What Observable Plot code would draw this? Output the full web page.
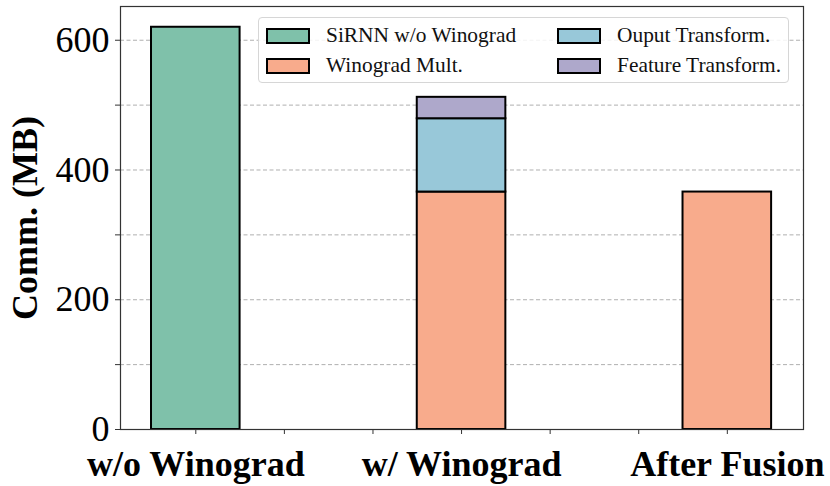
<!DOCTYPE html>
<html>
<head>
<meta charset="utf-8">
<script src="https://cdn.jsdelivr.net/npm/d3@7"></script>
<script src="https://cdn.jsdelivr.net/npm/@observablehq/plot@0.6"></script>
<style>
  html, body { margin: 0; padding: 0; background: #fff; }
  #wrap { position: relative; width: 830px; height: 486px; font-family: 'Liberation Serif', serif; }
  #legend { position: absolute; left: 258px; top: 17px; width: 531px; height: 66px; box-sizing: border-box;
    border: 1px solid #d6d6d6; border-radius: 4px; background: rgba(255,255,255,0.85); font-family: 'Liberation Serif', serif; }
  .item { position: absolute; display: flex; align-items: center; font-size: 21.4px; color: #111; white-space: nowrap; font-family: 'Liberation Serif', serif; }
  .sw { width: 40px; height: 12px; border: 2px solid #000; margin-right: 16px; }
</style>
</head>
<body>
<div id="wrap"></div>
<script>
const categories = ["w/o Winograd", "w/ Winograd", "After Fusion"];
const series = ["SiRNN w/o Winograd", "Winograd Mult.", "Ouput Transform.", "Feature Transform."];
const colors = ["#7fc1aa", "#f8ab8c", "#98c8d9", "#aea8cb"];
const sirnn = [620, 0, 0];
const winoMult = [0, 366, 366];
const outputTransform = [0, 113, 0];
const featureTransform = [0, 33, 0];
const yTicks = [0, 200, 400, 600];
const yMinor = [100, 300, 500];
const gridValues = [100, 200, 300, 400, 500, 600];

const seriesValues = [sirnn, winoMult, outputTransform, featureTransform];
const rows = [];
categories.forEach((c, i) => {
  let base = 0;
  series.forEach((s, k) => {
    const v = seriesValues[k][i];
    if (v > 0) {
      rows.push({series: s, x1: i * 3 - 0.5, x2: i * 3 + 0.5, y1: base, y2: base + v});
      base += v;
    }
  });
});

const font = "'Liberation Serif', serif";
const plot = Plot.plot({
  width: 830, height: 486,
  marginLeft: 120, marginRight: 27, marginTop: 6, marginBottom: 57,
  style: {fontFamily: font, background: "#fff", color: "#000"},
  x: {domain: [-0.85, 6.86]},
  y: {domain: [0, 652]},
  color: {domain: series, range: colors},
  marks: [
    Plot.gridY(gridValues, {stroke: "#b0b0b0", strokeOpacity: 1, strokeDasharray: "4,2.5", strokeWidth: 1}),
    Plot.rectY(rows, {x1: "x1", x2: "x2", y1: "y1", y2: "y2", fill: "series", stroke: "#000", strokeWidth: 2}),
    Plot.axisY({ticks: yTicks, tickSize: 5, tickPadding: 6, fontSize: 36, fontFamily: font, label: null, stroke: "#333"}),
    Plot.axisY({ticks: yMinor, tickSize: 5, tickFormat: () => "", label: null, stroke: "#333"}),
    Plot.axisX({ticks: [0, 3, 6], tickSize: 5, tickPadding: 16, tickFormat: (d) => categories[Math.round(d / 3)], fontSize: 36, fontFamily: font, fontWeight: "bold", label: null, stroke: "#333"}),
    Plot.axisX({ticks: [1, 2, 4, 5], tickSize: 5, tickFormat: () => "", label: null, stroke: "#333"}),
    Plot.frame({stroke: "#333", strokeWidth: 1.2}),
    Plot.text(["Comm. (MB)"], {frameAnchor: "left", textAnchor: "middle", dx: -95, rotate: -90, fontSize: 36, fontFamily: font, fontWeight: "bold", fill: "#000"})
  ]
});
const wrap = document.getElementById("wrap");
wrap.appendChild(plot);

const legend = document.createElement("div");
legend.id = "legend";
const pos = [[7, 5], [7, 35], [298, 5], [298, 35]];
series.forEach((s, k) => {
  const it = document.createElement("div");
  it.className = "item";
  it.style.left = pos[k][0] + "px";
  it.style.top = pos[k][1] + "px";
  const sw = document.createElement("span");
  sw.className = "sw";
  sw.style.background = colors[k];
  it.appendChild(sw);
  const t = document.createElement("span");
  t.textContent = s;
  it.appendChild(t);
  legend.appendChild(it);
});
wrap.appendChild(legend);
</script>
</body>
</html>
